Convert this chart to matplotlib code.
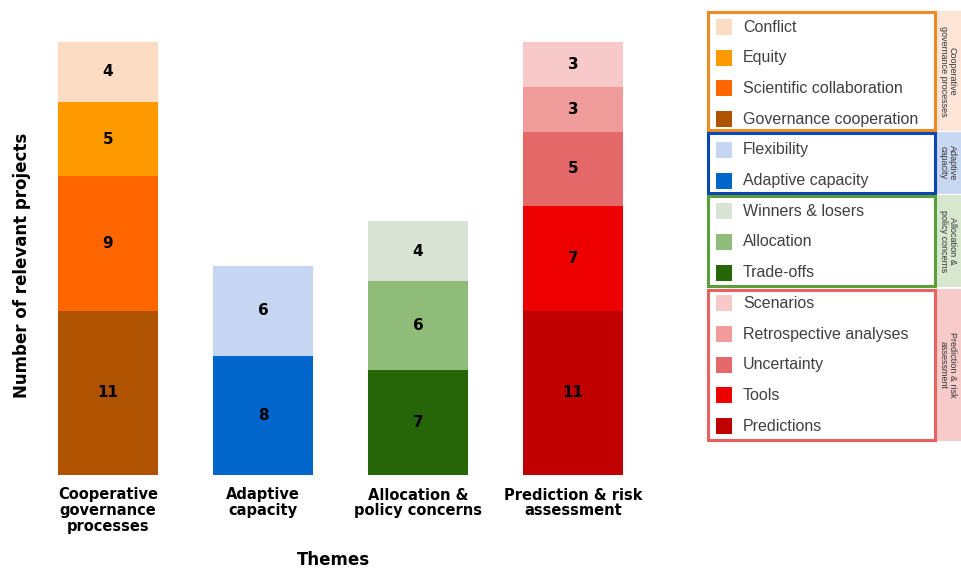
import matplotlib
matplotlib.use("Agg")
import matplotlib.pyplot as plt
from matplotlib.patches import Rectangle

themes = ["Cooperative\ngovernance\nprocesses", "Adaptive\ncapacity",
          "Allocation &\npolicy concerns", "Prediction & risk\nassessment"]

# Sub-categories listed bottom -> top within each bar
coop_names = ["Governance cooperation", "Scientific collaboration", "Equity", "Conflict"]
coop_vals = [11, 9, 5, 4]
coop_cols = ["#B05300", "#FF6600", "#FF9900", "#FDDCC4"]

adap_names = ["Adaptive capacity", "Flexibility"]
adap_vals = [8, 6]
adap_cols = ["#0066CC", "#C6D6F2"]

alloc_names = ["Trade-offs", "Allocation", "Winners & losers"]
alloc_vals = [7, 6, 4]
alloc_cols = ["#266608", "#8FBC78", "#D9E3D3"]

pred_names = ["Predictions", "Tools", "Uncertainty", "Retrospective analyses", "Scenarios"]
pred_vals = [11, 7, 5, 3, 3]
pred_cols = ["#C00000", "#EE0000", "#E6696A", "#F09C9A", "#F8C9C9"]

side_labels = ["Cooperative\ngovernance processes", "Adaptive\ncapacity",
               "Allocation &\npolicy concerns", "Prediction & risk\nassessment"]
box_edges = ["#F08A24", "#0A46B4", "#5B9E3C", "#E8635F"]
side_fill = ["#FCE4D6", "#C9D8F2", "#D6E7CE", "#F8CBCB"]

groups = [(coop_names, coop_vals, coop_cols),
          (adap_names, adap_vals, adap_cols),
          (alloc_names, alloc_vals, alloc_cols),
          (pred_names, pred_vals, pred_cols)]

W, H = 961, 570
fig = plt.figure(figsize=(W / 100, H / 100), dpi=100)
ax = fig.add_axes([15 / W, (H - 475) / H, 651 / W, (475 - 42) / H])

for i, (names, vals, cols) in enumerate(groups):
    bottom = 0
    for v, c in zip(vals, cols):
        ax.bar(i, v, bottom=bottom, width=0.645, color=c, edgecolor="none")
        ax.text(i, bottom + v / 2, str(v), ha="center", va="center",
                fontsize=11, fontweight="bold", color="black",
                family="DejaVu Sans")
        bottom += v

ax.set_xlim(-0.6, 3.6)
ax.set_ylim(0, 29)
ax.set_xticks(range(4))
ax.set_xticklabels(themes, fontsize=10.5, fontweight="bold", linespacing=1.05)
ax.tick_params(axis="x", length=0, pad=9)
ax.set_yticks([])
for s in ax.spines.values():
    s.set_visible(False)

fig.text(333 / W, 1 - 560 / H, "Themes", ha="center", va="center",
         fontsize=12, fontweight="bold")
fig.text(22 / W, 1 - 265 / H, "Number of relevant projects", ha="center",
         va="center", rotation=90, fontsize=12, fontweight="bold")

# Legend overlay in pixel coordinates
lx = fig.add_axes([0, 0, 1, 1])
lx.set_xlim(0, W)
lx.set_ylim(H, 0)
lx.axis("off")
lx.patch.set_alpha(0)

box_tops = [12, 133, 196, 290]
box_bottoms = [130, 193, 286, 440]
row_y0 = 27
row_step = 30.7
k = 0
for g, (names, vals, cols) in enumerate(groups):
    t, b = box_tops[g], box_bottoms[g]
    lx.add_patch(Rectangle((935, t - 1), 30, b - t + 2, facecolor=side_fill[g],
                           edgecolor="none"))
    lx.add_patch(Rectangle((708, t), 227, b - t, facecolor="none",
                           edgecolor=box_edges[g], linewidth=2.2))
    lx.text(948, (t + b) / 2, side_labels[g], rotation=270, ha="center",
            va="center", fontsize=6.5, color="#333333", linespacing=1.0,
            family="Liberation Sans", multialignment="center")
    for name, c in zip(names[::-1], cols[::-1]):
        y = row_y0 + k * row_step
        lx.add_patch(Rectangle((716, y - 8), 16, 16, facecolor=c, edgecolor="none"))
        lx.text(743, y, name, ha="left", va="center", fontsize=11.5,
                color="#404040", family="Liberation Sans")
        k += 1

fig.savefig("out.png", dpi=100)
